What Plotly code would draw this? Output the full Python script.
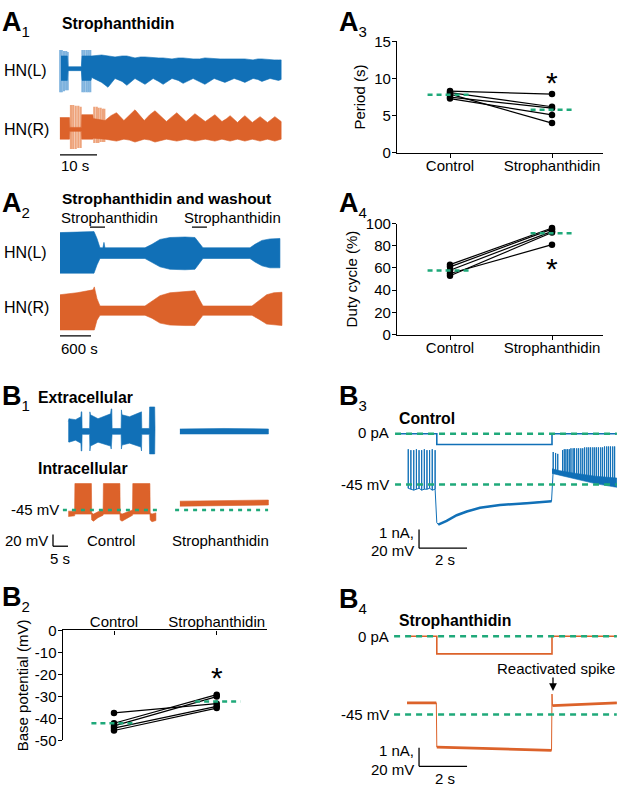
import plotly.graph_objects as go

W, H = 617, 791
FONT = "Liberation Sans, Arial, sans-serif"
BLUE = "#1170b7"
BLUE_LT = "#7fb3de"
ORANGE = "#dc622a"
ORANGE_LT = "#eea47c"
GREEN = "#1fa97a"
FS = 15

# ---------------- A1: strophanthidin, 60 s (t in s, envelope in a.u.)
a1_L_t = [0.0, 1.7, 1.9, 5.5, 5.7, 8.1, 8.3, 11.0, 12.7, 14.6, 16.5, 17.8, 20.0, 21.5, 22.7, 24.9, 26.4, 27.6,
          30.0, 31.7, 33.0, 35.7, 37.5, 38.9, 41.4, 43.0, 44.3, 46.8, 48.4, 49.7, 51.9, 53.2, 54.3, 56.5, 57.6, 58.8, 59.5]
a1_L_hi = [13, 13, 2, 2, 13, 13, 13, 14, 13, 12, 13, 13, 11, 12, 12, 11, 11, 11,
           10, 11, 11, 10, 10, 11, 10, 10, 10, 10, 10, 10, 9, 10, 10, 9, 9, 9, 9]
a1_L_lo = [-12, -12, -2, -2, -12, -12, -9, -14, -19, -10, -13, -17, -10, -13, -16, -10, -13, -16,
           -10, -12, -15, -10, -13, -16, -10, -12, -14, -10, -12, -14, -10, -11, -13, -10, -11, -12, -11]
a1_L_spk_t = [-0.2, 0.2, 0.8, 1.4, 1.8, 5.8, 6.3, 6.9, 7.4, 7.9]
a1_L_spk_top = [19, 19, 18, 18, 17, 19, 19, 19, 19, 19]
a1_L_spk_bot = [-24, -24, -23, -22, -22, -24, -24, -24, -24, -24]

a1_R_t = [-0.3, 2.3, 2.4, 5.5, 5.6, 8.6, 8.7, 11.9, 13.5, 15.0, 17.0, 18.5, 20.0, 22.5, 24.0, 25.4, 28.5, 30.0, 31.3,
          33.8, 35.0, 36.2, 39.0, 40.5, 41.6, 43.5, 44.8, 45.7, 47.7, 48.8, 49.7, 51.7, 52.8, 53.8, 55.8, 56.8, 57.8, 59.5]
a1_R_hi = [12, 12, 2, 2, 15, 15, 11, 9, 14, 17, 9, 15, 20, 9, 15, 19, 8, 13, 17,
           8, 12, 16, 8, 12, 15, 8, 11, 14, 7, 11, 14, 7, 10, 13, 7, 10, 13, 8]
a1_R_lo = [-10, -10, -2, -2, -10, -10, -9, -10, -11, -12, -10, -11, -13, -10, -11, -13, -10, -11, -12,
           -10, -11, -12, -10, -11, -12, -10, -11, -12, -10, -11, -12, -10, -11, -12, -10, -11, -12, -10]
a1_R_spk_t = [2.7, 3.3, 3.97, 4.68, 5.3, 9.0, 9.65, 10.1, 10.7, 11.3, 11.7]
a1_R_spk_top = [25, 25, 24, 24, 23, 23, 23, 22, 22, 21, 21]
a1_R_spk_bot = [-20, -20, -20, -19, -19, -14, -14, -14, -13, -13, -13]

# ---------------- A2: strophanthidin and washout (t in s)
a2_L_t = [0, 330, 658, 716, 774, 830, 851, 870, 1645, 1780, 1935, 2129, 2419, 2612, 2709, 2767, 3677, 3773, 3909, 4064, 4257]
a2_L_hi = [21, 21.5, 22, 15, 5.5, 5.5, 11, 5.5, 5.5, 9, 14, 16, 16.5, 16, 10, 5.5, 5.5, 9, 13, 14.5, 15]
a2_L_lo = [-20.5, -20.5, -20.5, -12, -5.5, -5.5, -5.5, -5.5, -5.5, -9, -14, -16.5, -17, -16.5, -10, -5.5, -5.5, -9, -13, -15, -15]
a2_R_t = [0, 330, 640, 664, 716, 774, 1645, 1780, 1935, 2129, 2419, 2612, 2709, 2767, 3716, 3850, 4000, 4140, 4296]
a2_R_hi = [16, 18, 21, 24, 12, 4.5, 4.5, 9, 15, 18, 19.5, 20, 10, 4.5, 4.5, 10, 16, 18, 18.5]
a2_R_lo = [-20, -20, -20, -20, -10, -5, -5, -8, -13, -15, -15.5, -15.5, -9, -5, -5, -9, -14, -15, -15.5]
a2_drug_on = [580, 2554]
a2_drug_off = [871, 2844]

# ---------------- A3 / A4: paired data
groups = ["Control", "Strophanthidin"]
a3_ctrl = [8.3, 8.1, 7.9, 7.5, 7.3]
a3_stro = [7.9, 6.2, 4.0, 6.0, 5.1]
a3_mean = [7.8, 5.8]
a4_ctrl = [63, 61, 58, 55, 53]
a4_stro = [96, 95, 93, 81, 92]
a4_mean = [57.7, 91.4]

# ---------------- B1: extracellular (a.u.) and intracellular (mV), t in s
b1_ext_t = [0.1, 0.3, 2.5, 4.3, 4.4, 4.6, 4.7, 7.2, 7.3, 7.5, 10.0, 14.2, 14.4, 14.6, 14.7, 17.7,
            17.8, 18.0, 20.5, 24.3, 24.5, 24.6, 27.1, 27.2, 28.9, 29.0]
b1_ext_hi = [10, 13, 12, 15, 20, 20, 3, 3, 20, 17, 13, 18, 23, 23, 3, 3,
             22, 17, 15, 19, 20, 3, 3, 25, 25, 3]
b1_ext_lo = [-10, -11, -9, -12, -20, -20, -3, -3, -20, -15, -11, -15, -18, -18, -3, -3,
             -18, -14, -12, -16, -20, -3, -3, -23, -23, -3]
b1_ext_s_t = [37.3, 52.0, 66.8]
b1_ext_s_hi = [2.5, 3.0, 2.5]
b1_ext_s_lo = [-2.6, -2.6, -2.6]

b1_int_t = [0.1, 2.2, 2.3, 7.8, 7.9, 8.5, 10.0, 11.7, 11.8, 17.3, 17.4, 18.0, 20.0, 21.5, 21.6, 27.3, 27.4, 28.0, 29.3]
b1_int_hi = [-47, -47, 0, 0, -50, -52, -48, -45, 0, 0, -50, -52, -48, -45, 0, 0, -50, -52, -50]
b1_int_lo = [-56, -55, -52, -52, -62, -64, -58, -54, -52, -52, -62, -64, -58, -54, -52, -52, -62, -65, -63]
b1_int_s_t = [37.3, 52.0, 66.8]
b1_int_s_hi = [-30, -29, -28]
b1_int_s_lo = [-38.5, -37.5, -36.5]

# ---------------- B2: base potential (mV)
b2_ctrl = [-37.5, -42.2, -43.4, -44.4, -45.5]
b2_stro = [-33.3, -29.2, -30.1, -34.5, -35.3]
b2_mean = [-42.2, -32.3]

# ---------------- B3: control, current step (nA) and voltage (mV)
b3_i_t = [-0.5, 1.2, 1.2, 6.0, 6.0, 8.7]
b3_i = [0, 0, -0.58, -0.58, 0, 0]
b3_pre_t = [0.01, 0.12, 0.24, 0.35, 0.46, 0.57, 0.68, 0.79, 0.90, 1.01, 1.13]
b3_pre_peak = [-7, -8, -8, -7, -8, -8, -7, -8, -8, -7, -8]
b3_pre_trough = [-49, -50, -51, -50, -49, -51, -50, -50, -49, -51, -50]
b3_hyp_t = [1.2, 1.26, 1.61, 2.03, 2.45, 3.0, 3.83, 4.95, 5.92, 5.98]
b3_hyp_v = [-86, -88, -84, -78, -74, -70, -67, -65, -63, -63]
b3_post_t = [6.05, 6.15, 6.24, 6.44, 6.51, 6.58, 6.65, 6.72, 6.79, 6.88, 6.94, 7.03, 7.11, 7.20, 7.28, 7.36,
             7.45, 7.53, 7.61, 7.70, 7.78, 7.86, 7.94, 8.03, 8.11, 8.19, 8.28, 8.36, 8.44, 8.53, 8.61]
b3_post_peak = [-10, -11, -12, -8, -7, -7, -7, -7, -6, -6, -6, -6, -6, -6, -6, -5,
                -5, -5, -5, -5, -5, -5, -5, -5, -5, -4, -4, -4, -4, -4, -4]
b3_post_trough = [-30, -31, -31, -33, -34, -34, -35, -35, -36, -36, -37, -37, -38, -38, -39, -39,
                  -40, -40, -41, -41, -42, -42, -43, -43, -44, -44, -45, -45, -46, -46, -47]
b3_band_t = [6.0, 6.3, 7.0, 7.8, 8.7]
b3_band_hi = [-28, -30, -33, -36, -38]
b3_band_lo = [-33, -35, -39, -44, -48]

# ---------------- B4: strophanthidin, current step (nA) and voltage (mV)
b4_i_t = [-0.04, 1.2, 1.2, 6.0, 6.0, 8.7]
b4_i = [0, 0, -0.95, -0.95, 0, 0]
b4_pre_t = [-0.04, 1.18]
b4_pre_v = [-32.5, -32.5]
b4_hyp_t = [1.2, 3.5, 5.98]
b4_hyp_v = [-80, -81.5, -83.5]
b4_spike_t, b4_spike_v = 6.0, -23
b4_post_t = [6.02, 8.7]
b4_post_v = [-35.5, -32.5]

fig = go.Figure()


def sfx(n):
    return "" if n == 1 else str(n)


def add_axes(n, box, x0, xs, y0, ys):
    # box in page pixels; x0/y0 = pixel of data zero, xs/ys = pixels per data unit
    px0, px1, py0, py1 = box
    fig.update_layout(**{
        "xaxis" + sfx(n): dict(domain=[px0 / W, px1 / W], range=[(px0 - x0) / xs, (px1 - x0) / xs],
                               anchor="y" + sfx(n), visible=False, fixedrange=True),
        "yaxis" + sfx(n): dict(domain=[1 - py1 / H, 1 - py0 / H], range=[(y0 - py1) / ys, (y0 - py0) / ys],
                               anchor="x" + sfx(n), visible=False, fixedrange=True),
    })


def band(n, t, hi, lo, color):
    t = list(t)
    fig.add_trace(go.Scatter(x=t + t[::-1], y=list(hi) + list(lo)[::-1], mode="lines", fill="toself",
                             fillcolor=color, line=dict(color=color, width=0.6),
                             xaxis="x" + sfx(n), yaxis="y" + sfx(n), hoverinfo="skip", showlegend=False))


def spikes(n, t, top, bot, color, width):
    xs, ys = [], []
    for s, tp, bt in zip(t, top, bot):
        xs += [s, s, None]
        ys += [bt, tp, None]
    fig.add_trace(go.Scatter(x=xs, y=ys, mode="lines", line=dict(color=color, width=width),
                             xaxis="x" + sfx(n), yaxis="y" + sfx(n), hoverinfo="skip", showlegend=False))


def line(n, x, y, color, width, dash=None):
    fig.add_trace(go.Scatter(x=x, y=y, mode="lines", line=dict(color=color, width=width, dash=dash),
                             xaxis="x" + sfx(n), yaxis="y" + sfx(n), hoverinfo="skip", showlegend=False))


shapes = []


def seg(n, x0, x1, y0, y1, color="black", width=1.3, dash=None):
    shapes.append(dict(type="line", xref="x" + sfx(n), yref="y" + sfx(n), x0=x0, x1=x1, y0=y0, y1=y1,
                       line=dict(color=color, width=width, dash=dash)))


# axes (pixel boxes)
add_axes(1, (55, 285, 35, 92), 61, 3.7, 61, 1)
add_axes(2, (55, 285, 92, 152), 61, 3.7, 123, 1)
add_axes(3, (55, 285, 218, 278), 60, 31 / 600, 249.5, 1)
add_axes(4, (55, 285, 278, 338), 60, 31 / 600, 308, 1)
add_axes(5, (397, 603, 33, 147), 450, 102, 147, 7.6)
add_axes(6, (397, 603, 219.3, 332.7), 450, 102, 332.7, 1.134)
add_axes(7, (45, 275, 400, 460), 68, 3, 431.7, 1)
add_axes(8, (45, 275, 478, 555), 68, 3, 485, 0.6)
add_axes(9, (62.7, 266.7, 635, 747.5), 114, 102.7, 635, 2.25)
add_axes(10, (390, 617, 425, 460), 408, 24, 434, 19)
add_axes(11, (390, 617, 440, 560), 408, 24, 443.25, 0.95)
add_axes(12, (390, 617, 632, 668), 408, 24, 641, 19)
add_axes(13, (390, 617, 690, 785), 408, 24, 678.25, 0.95)

# A1
spikes(1, a1_L_spk_t, a1_L_spk_top, a1_L_spk_bot, BLUE_LT, 2.2)
band(1, a1_L_t, a1_L_hi, a1_L_lo, BLUE)
spikes(2, a1_R_spk_t, a1_R_spk_top, a1_R_spk_bot, ORANGE_LT, 2.2)
band(2, a1_R_t, a1_R_hi, a1_R_lo, ORANGE)
seg(2, -0.27, 9.73, -26, -26)

# A2
band(3, a2_L_t, a2_L_hi, a2_L_lo, BLUE)
band(4, a2_R_t, a2_R_hi, a2_R_lo, ORANGE)
for s, e in zip(a2_drug_on, a2_drug_off):
    seg(3, s, e, 26.5, 26.5)
seg(4, 0, 600, -26, -26)


# paired scatter panels
def paired(n, ctrl, stro, mean):
    xs, ys = [], []
    for c, s in zip(ctrl, stro):
        xs += [0, 1, None]
        ys += [c, s, None]
    fig.add_trace(go.Scatter(x=xs, y=ys, mode="lines+markers", line=dict(color="black", width=1.2),
                             marker=dict(color="black", size=6.5), xaxis="x" + sfx(n), yaxis="y" + sfx(n),
                             hoverinfo="skip", showlegend=False))
    line(n, [-0.22, 0.22, None, 0.79, 1.23], [mean[0], mean[0], None, mean[1], mean[1]], GREEN, 2.5, "5px,4px")


paired(5, a3_ctrl, a3_stro, a3_mean)
paired(6, a4_ctrl, a4_stro, a4_mean)
paired(9, b2_ctrl, b2_stro, b2_mean)

# B1
band(7, b1_ext_t, b1_ext_hi, b1_ext_lo, BLUE)
band(7, b1_ext_s_t, b1_ext_s_hi, b1_ext_s_lo, BLUE)
band(8, b1_int_t, b1_int_hi, b1_int_lo, ORANGE)
band(8, b1_int_s_t, b1_int_s_hi, b1_int_s_lo, ORANGE)
seg(8, -1.7, 29.7, -45, -45, GREEN, 2.5, "4px,5px")
seg(8, 35.7, 66.7, -45, -45, GREEN, 2.5, "4px,5px")
seg(8, -5, -5, -86.7, -106.7)
seg(8, -5, 0, -106.7, -106.7)

# B3
seg(10, -0.54, 8.7, 0, 0, GREEN, 2.5, "6px,5px")
line(10, b3_i_t, b3_i, BLUE, 1.6)
vx, vy = [], []
for t, pk, tr in zip(b3_pre_t, b3_pre_peak, b3_pre_trough):
    vx += [t, t, t]
    vy += [tr, pk, tr]
vx += b3_hyp_t
vy += b3_hyp_v
for t, pk, tr in zip(b3_post_t, b3_post_peak, b3_post_trough):
    vx += [t, t, t]
    vy += [tr, pk, tr]
band(11, b3_band_t, b3_band_hi, b3_band_lo, BLUE)
line(11, vx, vy, BLUE, 1)
line(11, b3_hyp_t[1:], b3_hyp_v[1:], BLUE, 2.5)
seg(11, -0.54, 8.7, -45, -45, GREEN, 2.5, "6px,5px")
seg(11, 0.46, 0.46, -93.4, -113.4)
seg(11, 0.46, 2.46, -113.4, -113.4)

# B4
seg(12, -0.58, 8.7, 0, 0, GREEN, 2.5, "6px,5px")
line(12, b4_i_t, b4_i, ORANGE, 1.6)
line(13, b4_pre_t + b4_hyp_t + [b4_spike_t] + b4_post_t, b4_pre_v + b4_hyp_v + [b4_spike_v] + b4_post_v, ORANGE, 1)
line(13, b4_pre_t + [None] + b4_hyp_t + [None] + b4_post_t, b4_pre_v + [None] + b4_hyp_v + [None] + b4_post_v, ORANGE, 2.8)
seg(13, -0.58, 8.7, -45, -45, GREEN, 2.5, "6px,5px")
seg(13, 0.46, 0.46, -80.8, -100.8)
seg(13, 0.46, 2.46, -100.8, -100.8)

# visible axes for the paired panels
axis_style = dict(visible=True, showline=True, linecolor="black", linewidth=1.3, ticks="outside", ticklen=4,
                  tickwidth=1.3, tickcolor="black", showgrid=False, zeroline=False,
                  tickfont=dict(size=FS, color="black", family=FONT))
for n in (5, 6, 9):
    fig.update_layout(**{"xaxis" + sfx(n): dict(axis_style, tickvals=[0, 1], ticktext=groups, ticklabelstandoff=-5)})
title_font = dict(size=FS, family=FONT, color="black")
fig.update_layout(
    yaxis5=dict(axis_style, tickvals=[0, 5, 10, 15], ticklabelstandoff=-2,
                title=dict(text="Period (s)", font=title_font, standoff=4)),
    yaxis6=dict(axis_style, tickvals=[0, 20, 40, 60, 80, 100], ticklabelstandoff=-2,
                title=dict(text="Duty cycle (%)", font=title_font, standoff=4)),
    yaxis9=dict(axis_style, tickvals=[0, -10, -20, -30, -40, -50], ticklabelstandoff=-2,
                ticktext=["0", "-10", "-20", "-30", "-40", "-50"],
                title=dict(text="Base potential (mV)", font=title_font, standoff=2)),
)
fig.update_layout(xaxis9=dict(side="top", ticks="inside", ticklabelstandoff=-4))

annotations = []


def text(px, py, s, xanchor="left", size=FS):
    annotations.append(dict(x=px / W, y=1 - py / H, xref="paper", yref="paper", text=s, showarrow=False,
                            xanchor=xanchor, yanchor="middle", font=dict(size=size, color="black", family=FONT)))


def star(n, y):
    annotations.append(dict(x=1, y=y, xref="x" + sfx(n), yref="y" + sfx(n), text="*", showarrow=False,
                            yanchor="middle", yshift=-4, font=dict(size=30, color="black", family=FONT)))


for letter, sub, px, py in [("A", "1", 0, 15), ("A", "2", 0, 200), ("A", "3", 337, 15), ("A", "4", 337, 200),
                            ("B", "1", 0, 397), ("B", "2", 0, 602), ("B", "3", 337, 397), ("B", "4", 337, 604)]:
    text(px, py, "<b>%s</b><sub><span style='font-size:15px'>%s</span></sub>" % (letter, sub), size=27)

text(60, 15, "<b>Strophanthidin</b>", size=15.8)
text(2, 63, "HN(L)", size=16)
text(2, 123, "HN(R)", size=16)
text(59, 160, "10 s")
text(60, 194, "<b>Strophanthidin and washout</b>", size=15.5)
text(59, 213, "Strophanthidin")
text(182, 213, "Strophanthidin")
text(2, 249, "HN(L)", size=16)
text(2, 305, "HN(R)", size=16)
text(59, 347, "600 s")

text(36, 397, "<b>Extracellular</b>", size=15.8)
text(36, 470, "<b>Intracellular</b>", size=15.8)
text(61, 512, "-45 mV", "right")
text(50, 543, "20 mV", "right")
text(60, 562, "5 s", "center")
text(111, 543, "Control", "center")
text(220, 543, "Strophanthidin", "center")

text(397, 418, "<b>Control</b>", size=15.8)
text(391, 433, "0 pA", "right")
text(391, 486, "-45 mV", "right")
text(416, 535, "1 nA,", "right")
text(416, 553, "20 mV", "right")
text(445, 563, "2 s", "center")

text(397, 625, "<b>Strophanthidin</b>", size=15.8)
text(391, 641, "0 pA", "right")
text(391, 721, "-45 mV", "right")
text(495, 674, "Reactivated spike")
text(416, 758, "1 nA,", "right")
text(416, 777, "20 mV", "right")
text(445, 786, "2 s", "center")
annotations.append(dict(x=553 / W, y=1 - 697 / H, xref="paper", yref="paper", text="", showarrow=True,
                        ax=0, ay=-15, arrowhead=2, arrowsize=1.2, arrowwidth=1.3, arrowcolor="black"))

star(5, 10.0)
star(6, 63.5)
star(9, -19.7)

fig.update_layout(width=W, height=H, margin=dict(l=0, r=0, t=0, b=0), paper_bgcolor="white",
                  plot_bgcolor="rgba(0,0,0,0)", showlegend=False, shapes=shapes, annotations=annotations,
                  font=dict(family=FONT, size=FS, color="black"))

fig.write_html("out.html", config={"displayModeBar": False},
               post_script="document.body.style.margin='0';")
